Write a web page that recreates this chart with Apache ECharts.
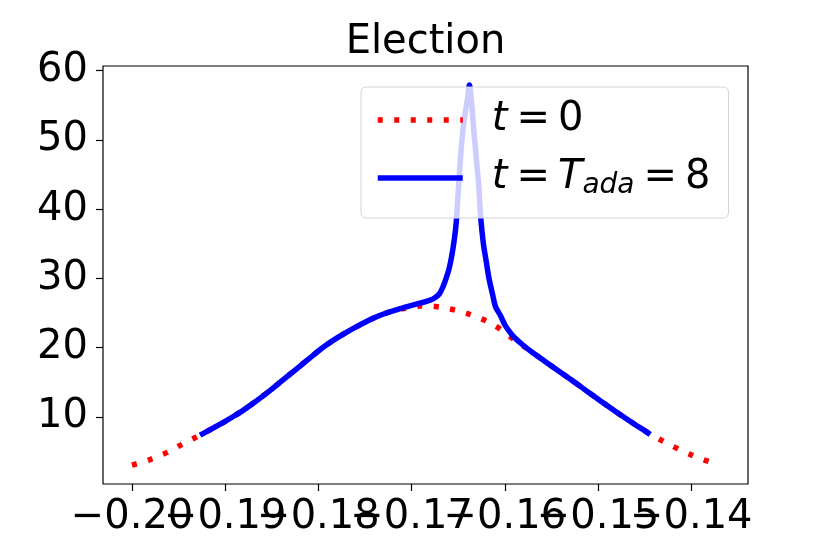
<!DOCTYPE html>
<html>
<head>
<meta charset="utf-8">
<title>Election</title>
<script src="https://cdn.jsdelivr.net/npm/echarts@6.0.0/dist/echarts.min.js"></script>
<style>
  html, body { margin: 0; padding: 0; background: #fff; }
  #main { width: 831px; height: 554px; }
</style>
</head>
<body>
<div id="main"></div>
<script>
  // t = 0 (red dotted)
  const redX = [
    -0.200, -0.199, -0.198, -0.197, -0.196, -0.195, -0.194, -0.193, -0.192, -0.191,
    -0.190, -0.189, -0.188, -0.187, -0.186, -0.185, -0.184, -0.183, -0.182, -0.181,
    -0.180, -0.179, -0.178, -0.177, -0.176, -0.175, -0.174, -0.173, -0.172, -0.171,
    -0.170, -0.169, -0.168, -0.167, -0.166, -0.165, -0.164, -0.163, -0.162, -0.161,
    -0.160, -0.159, -0.158, -0.157, -0.156, -0.155, -0.154, -0.153, -0.152, -0.151,
    -0.150, -0.149, -0.148, -0.147, -0.146, -0.145, -0.144, -0.143, -0.142, -0.141,
    -0.140, -0.139, -0.138, -0.137
  ]
  const redY = [
    3.03, 3.4, 3.85, 4.38, 5.0, 5.75, 6.45, 7.15, 7.85, 8.6,
    9.35, 10.15, 11.0, 11.95, 12.95, 14.0, 15.1, 16.2, 17.3, 18.4,
    19.5, 20.5, 21.4, 22.2, 22.95, 23.65, 24.3, 24.85, 25.3, 25.6,
    25.85, 26.0, 26.0, 25.85, 25.6, 25.3, 24.9, 24.4, 23.85, 23.1,
    22.2, 21.15, 20.2, 19.25, 18.3, 17.35, 16.4, 15.45, 14.5, 13.5,
    12.55, 11.6, 10.65, 9.75, 8.85, 8.0, 7.2, 6.45, 5.75, 5.1,
    4.5, 3.95, 3.5, 3.1
  ]

  // t = T_ada = 8 (blue solid)
  const blueX = [
    -0.1927, -0.192, -0.191, -0.190, -0.189, -0.188, -0.187, -0.186, -0.185, -0.184,
    -0.183, -0.182, -0.181, -0.180, -0.179, -0.178, -0.177, -0.176, -0.175, -0.174,
    -0.173, -0.172, -0.171, -0.170, -0.169, -0.168, -0.1675, -0.1670, -0.1666, -0.1663,
    -0.1660, -0.1657, -0.1654, -0.1652, -0.1650, -0.1648, -0.1646, -0.1644, -0.1642, -0.1640,
    -0.1638, -0.1636, -0.1634, -0.1632, -0.1630, -0.1628, -0.1626, -0.1623, -0.1620, -0.1617,
    -0.1613, -0.1610, -0.1605, -0.1600, -0.1595, -0.1590, -0.158, -0.157, -0.156, -0.155,
    -0.154, -0.153, -0.152, -0.151, -0.150, -0.149, -0.148, -0.147, -0.146, -0.145,
    -0.1444
  ]
  const blueY = [
    7.35, 7.85, 8.6, 9.35, 10.15, 11.0, 11.95, 12.95, 14.0, 15.1,
    16.2, 17.3, 18.4, 19.5, 20.5, 21.4, 22.2, 22.95, 23.65, 24.3,
    24.85, 25.3, 25.7, 26.1, 26.45, 26.85, 27.2, 27.8, 28.9, 30.0,
    31.3, 33.2, 35.8, 38.3, 42.5, 46.5, 50.0, 52.5, 54.3, 56.0,
    57.94, 56.0, 52.5, 49.5, 46.5, 43.5, 39.0, 35.0, 32.5, 30.0,
    27.6, 25.9, 24.7, 23.3, 22.3, 21.5, 20.3, 19.25, 18.3, 17.35,
    16.4, 15.45, 14.5, 13.5, 12.55, 11.6, 10.65, 9.75, 8.85, 8.0,
    7.45
  ]

  // tick labels
  const xTicks = [-0.20, -0.19, -0.18, -0.17, -0.16, -0.15, -0.14]
  const yTicks = [10, 20, 30, 40, 50, 60]
  const seriesNames = ['t=0', 't=Tada=8']

  const FONT = 'DejaVu Sans'
  const toPairs = (xs, ys) => xs.map((x, i) => [x, ys[i]])
  const fmtTick = (v) => (v < 0 ? '\u2212' : '') + Math.abs(v).toFixed(2)

  // data view limits (matplotlib-like 5% margins)
  const xLim = [-0.20311, -0.13391]
  const yLim = [0.29, 60.68]

  // plot frame in px
  const frame = { left: 103, right: 83, top: 66, bottom: 70 }
  const plotW = 831 - frame.left - frame.right
  const plotH = 554 - frame.top - frame.bottom
  const kx = plotW / (xLim[1] - xLim[0])
  const ky = plotH / (yLim[1] - yLim[0])

  // x tick labels overlap in the original; ECharts drops overlapping ones,
  // so even and odd ticks go on two separate (empty) grids
  const evenX = xTicks.filter((_, i) => i % 2 === 0)
  const oddX = xTicks.filter((_, i) => i % 2 === 1)
  const spanGrid = (x0, x1) => ({
    left: frame.left + (x0 - xLim[0]) * kx,
    right: frame.right + (xLim[1] - x1) * kx
  })
  const tickGrid = Object.assign(spanGrid(evenX[0], evenX[evenX.length - 1]), {
    top: frame.top + (yLim[1] - yTicks[yTicks.length - 1]) * ky,
    bottom: frame.bottom + (yTicks[0] - yLim[0]) * ky
  })
  const oddGrid = Object.assign(spanGrid(oddX[0], oddX[oddX.length - 1]), {
    top: frame.top, bottom: frame.bottom
  })

  const chart = echarts.init(document.getElementById('main'))

  const tickStyle = { show: true, length: 7, lineStyle: { color: '#000', width: 1.2 } }
  const labelStyle = { fontFamily: FONT, fontSize: 40, color: '#000', showMinLabel: true, showMaxLabel: true, hideOverlap: false }
  const hidden = { axisLine: { show: false }, axisTick: { show: false }, axisLabel: { show: false }, splitLine: { show: false } }

  const option = {
    animation: false,
    backgroundColor: '#fff',
    title: {
      text: 'Election',
      left: 425.5,
      top: 23,
      padding: 0,
      textAlign: 'center',
      textStyle: { fontFamily: FONT, fontSize: 40, fontWeight: 'normal', color: '#000' }
    },
    grid: [
      Object.assign({ show: true, borderColor: '#000', borderWidth: 1.2 }, frame),
      Object.assign({ show: false }, tickGrid),
      Object.assign({ show: false }, oddGrid)
    ],
    legend: {
      orient: 'vertical',
      left: 361,
      top: 87,
      padding: [13, 18, 18, 14],
      itemWidth: 85,
      itemHeight: 44,
      itemGap: 18,
      backgroundColor: 'rgba(255,255,255,0.8)',
      borderColor: '#d4d4d4',
      borderWidth: 1,
      borderRadius: 5,
      itemStyle: { opacity: 0 },
      lineStyle: { width: 5.5 },
      data: seriesNames,
      formatter: (name) => name === seriesNames[0]
        ? '{i0|t}{e|=}{a|0}'
        : '{i0|t}{e|=}{i|T}{s|ada}{e|=}{a|8}',
      textStyle: {
        fontFamily: FONT, fontSize: 40, color: '#000',
        rich: {
          a: { fontFamily: FONT, fontSize: 40, lineHeight: 44, color: '#000' },
          e: { fontFamily: FONT, fontSize: 40, lineHeight: 44, color: '#000', padding: [0, 8, 0, 9] },
          i: { fontFamily: FONT, fontSize: 40, lineHeight: 44, fontStyle: 'italic', color: '#000' },
          i0: { fontFamily: FONT, fontSize: 40, lineHeight: 44, fontStyle: 'italic', color: '#000', padding: [0, 0, 0, 24] },
          s: { fontFamily: FONT, fontSize: 28, lineHeight: 28, fontStyle: 'italic', color: '#000', verticalAlign: 'bottom' }
        }
      }
    },
    xAxis: [
      Object.assign({ gridIndex: 0, type: 'value', min: xLim[0], max: xLim[1] }, hidden),
      {
        gridIndex: 1, type: 'value',
        min: evenX[0], max: evenX[evenX.length - 1], interval: 0.02,
        offset: tickGrid.bottom - frame.bottom,
        axisLine: { show: false }, splitLine: { show: false },
        axisTick: tickStyle,
        axisLabel: Object.assign({ formatter: fmtTick, margin: 14 }, labelStyle)
      },
      {
        gridIndex: 2, type: 'value',
        min: oddX[0], max: oddX[oddX.length - 1], interval: 0.02,
        axisLine: { show: false }, splitLine: { show: false },
        axisTick: tickStyle,
        axisLabel: Object.assign({ formatter: fmtTick, margin: 14 }, labelStyle)
      }
    ],
    yAxis: [
      Object.assign({ gridIndex: 0, type: 'value', min: yLim[0], max: yLim[1] }, hidden),
      {
        gridIndex: 1, type: 'value',
        min: yTicks[0], max: yTicks[yTicks.length - 1], interval: 10,
        offset: tickGrid.left - frame.left,
        axisLine: { show: false }, splitLine: { show: false },
        axisTick: tickStyle,
        axisLabel: Object.assign({ margin: 15 }, labelStyle)
      },
      Object.assign({ gridIndex: 2, type: 'value', min: yLim[0], max: yLim[1] }, hidden)
    ],
    series: [
      {
        name: seriesNames[0],
        type: 'line',
        xAxisIndex: 0, yAxisIndex: 0,
        data: toPairs(redX, redY),
        symbol: 'none',
        smooth: 0.3,
        z: 2,
        lineStyle: { color: '#ff0000', width: 5.5, type: [5, 11.5], cap: 'butt' },
        itemStyle: { color: '#ff0000' }
      },
      {
        name: seriesNames[1],
        type: 'line',
        xAxisIndex: 0, yAxisIndex: 0,
        data: toPairs(blueX, blueY),
        symbol: 'none',
        smooth: 0.3,
        z: 3,
        lineStyle: { color: '#0000ff', width: 5.5, cap: 'butt' },
        itemStyle: { color: '#0000ff' }
      }
    ]
  }

  chart.setOption(option)
</script>
</body>
</html>
